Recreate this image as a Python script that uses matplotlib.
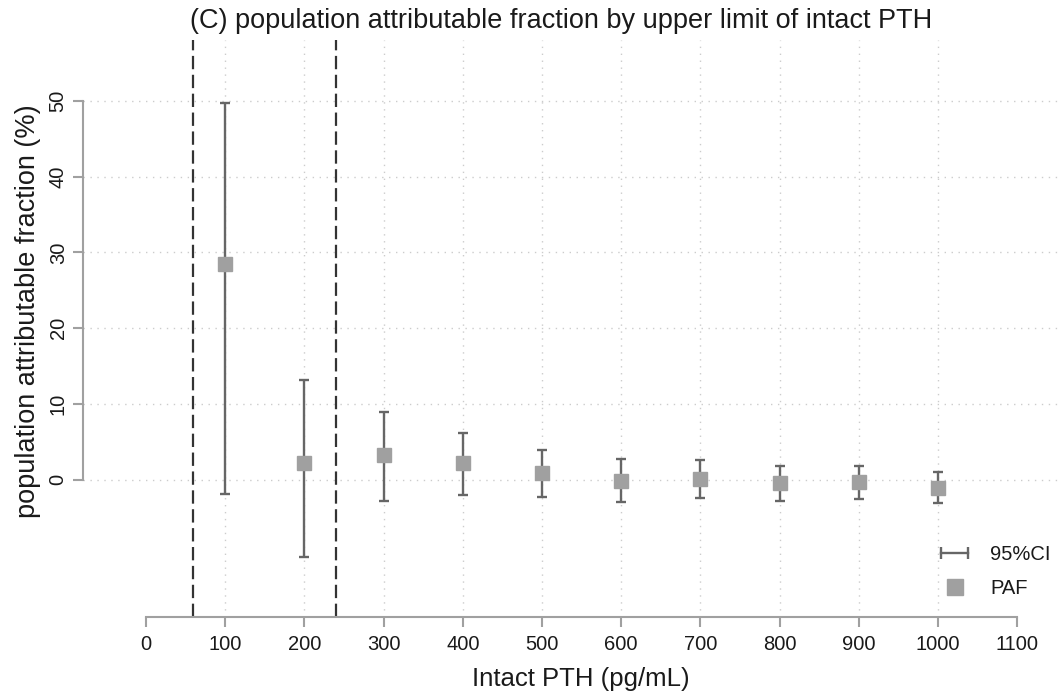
import matplotlib.pyplot as plt
from matplotlib.lines import Line2D
from matplotlib.legend_handler import HandlerLine2D

plt.rcParams['font.family'] = ['Liberation Sans', 'DejaVu Sans']

# data
pth_limit = [100, 200, 300, 400, 500, 600, 700, 800, 900, 1000]
paf = [28.5, 2.2, 3.3, 2.2, 0.9, -0.1, 0.1, -0.4, -0.3, -1.0]
ci_low = [-1.8, -10.2, -2.8, -2.0, -2.3, -2.9, -2.4, -2.8, -2.5, -3.1]
ci_high = [49.7, 13.2, 8.9, 6.2, 4.0, 2.7, 2.6, 1.9, 1.8, 1.1]
ref_lines = [60, 240]
xticks = list(range(0, 1200, 100))
yticks = [0, 10, 20, 30, 40, 50]

W, H = 1060, 698
fig = plt.figure(figsize=(W / 100, H / 100), dpi=100)
ax = fig.add_axes([83 / W, (H - 617) / H, (1060 - 83) / W, (617 - 40) / H])

axis_grey = '#a0a0a0'
err_col = '#666666'
sq_col = '#a0a0a0'
txt_col = '#1a1a1a'

# grid (Stata style dotted)
for v in yticks:
    ax.axhline(v, color='#cccccc', lw=1, ls=(0, (1, 4)), zorder=0)
for v in xticks[1:-1]:
    ax.axvline(v, color='#cccccc', lw=1, ls=(0, (1, 4)), zorder=0)

for v in ref_lines:
    ax.axvline(v, color='#333333', lw=1.6, ls=(0, (6, 2.5)), zorder=1)

yerr = [[p - lo for p, lo in zip(paf, ci_low)], [hi - p for p, hi in zip(paf, ci_high)]]
ax.errorbar(pth_limit, paf, yerr=yerr, fmt='none', ecolor=err_col, elinewidth=1.7,
            capsize=3.5, capthick=1.7, zorder=2)
ax.plot(pth_limit, paf, 's', color=sq_col, markersize=10, zorder=3, ls='none')

ax.set_xlim(-79.5, 1154)
ax.set_ylim(-18.07, 58.0)

for s in ['top', 'right']:
    ax.spines[s].set_visible(False)
ax.spines['left'].set_bounds(0, 50)
ax.spines['bottom'].set_bounds(0, 1100)
for s in ['left', 'bottom']:
    ax.spines[s].set_color(axis_grey)
    ax.spines[s].set_linewidth(1.5)

ax.set_xticks(xticks)
ax.set_yticks(yticks)
ax.tick_params(axis='both', direction='out', length=7, width=1.5, color=axis_grey,
               labelsize=14.5, labelcolor=txt_col)
ax.tick_params(axis='x', pad=6)
ax.tick_params(axis='y', pad=4)
for lab in ax.get_yticklabels():
    lab.set_rotation(90)
    lab.set_va('center')

fig.text(28 / W, 1 - 311 / H, 'population attributable fraction (%)', rotation=90,
         ha='center', va='center', fontsize=19.5, color=txt_col)
fig.text(581 / W, 1 - 679 / H, 'Intact PTH (pg/mL)', ha='center', va='center',
         fontsize=18.5, color=txt_col)
fig.text(561 / W, 1 - 21 / H, '(C) population attributable fraction by upper limit of intact PTH',
         ha='center', va='center', fontsize=19.5, color=txt_col)

ci_handle = Line2D([], [], color=err_col, lw=1.7, marker='|', markersize=8, markeredgewidth=1.7)
paf_handle = Line2D([], [], color=sq_col, marker='s', markersize=11, ls='none')
leg = fig.legend([ci_handle, paf_handle], ['95%CI', 'PAF'], loc='upper left',
                 bbox_to_anchor=(927 / W, 1 - 537 / H), frameon=False, fontsize=14.5,
                 numpoints=2, handlelength=1.95, handletextpad=0.8, labelspacing=0.75,
                 borderpad=0.4, borderaxespad=0, labelcolor=txt_col,
                 handler_map={paf_handle: HandlerLine2D(numpoints=1)})

fig.savefig('out.png', dpi=100)
